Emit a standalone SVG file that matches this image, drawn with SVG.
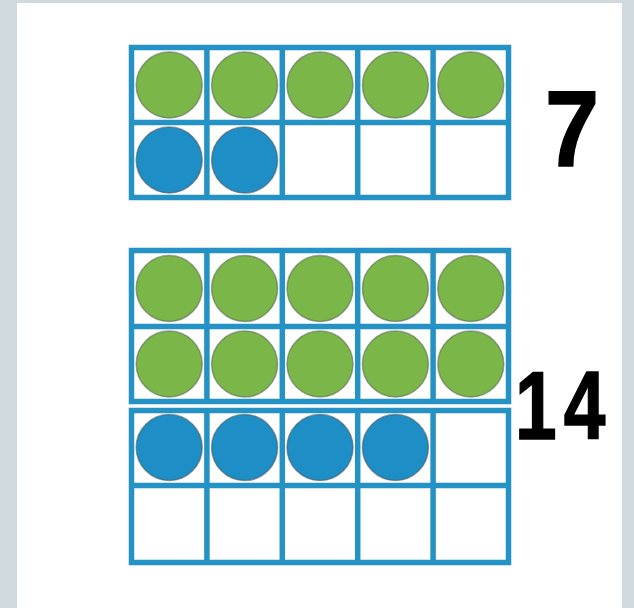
<svg xmlns="http://www.w3.org/2000/svg" width="634" height="608" viewBox="0 0 634 608">
<style>
.frame{fill:#fff;stroke:#2592c6;stroke-width:5.5}
.div{stroke:#2592c6;stroke-width:5.5}
.g{fill:#7ab648;stroke:#5e6b58;stroke-opacity:0.6;stroke-width:1.5}
.b{fill:#1e8fc6;stroke:#4a5a66;stroke-opacity:0.6;stroke-width:1.5}
.num{font-family:"Liberation Sans Narrow","Liberation Sans",sans-serif;font-weight:bold;fill:#000;stroke:#000;stroke-width:1.5}
</style>
<rect x="0" y="0" width="634" height="608" fill="#cfd9de"/>
<rect x="17" y="3" width="605" height="605" fill="#fff"/>
<g id="frame7">
<rect class="frame" x="131.5" y="47.5" width="377" height="150"/>
<path class="div" d="M206.9 47.5V197.5M282.3 47.5V197.5M357.7 47.5V197.5M433.1 47.5V197.5M131.5 122.5H508.5"/>
<circle class="g" cx="169.2" cy="85" r="33"/>
<circle class="g" cx="244.6" cy="85" r="33"/>
<circle class="g" cx="320" cy="85" r="33"/>
<circle class="g" cx="395.4" cy="85" r="33"/>
<circle class="g" cx="470.8" cy="85" r="33"/>
<circle class="b" cx="169.2" cy="160" r="33"/>
<circle class="b" cx="244.6" cy="160" r="33"/>
</g>
<g id="label7"><text class="num" transform="translate(545,166) scale(0.9,1)" x="0" y="0" font-size="108">7</text></g>
<g id="frame14a">
<rect class="frame" x="131.5" y="250.5" width="377" height="151"/>
<path class="div" d="M206.9 250.5V401.5M282.3 250.5V401.5M357.7 250.5V401.5M433.1 250.5V401.5M131.5 326.5H508.5"/>
<circle class="g" cx="169.2" cy="288.5" r="33"/>
<circle class="g" cx="244.6" cy="288.5" r="33"/>
<circle class="g" cx="320" cy="288.5" r="33"/>
<circle class="g" cx="395.4" cy="288.5" r="33"/>
<circle class="g" cx="470.8" cy="288.5" r="33"/>
<circle class="g" cx="169.2" cy="364" r="33"/>
<circle class="g" cx="244.6" cy="364" r="33"/>
<circle class="g" cx="320" cy="364" r="33"/>
<circle class="g" cx="395.4" cy="364" r="33"/>
<circle class="g" cx="470.8" cy="364" r="33"/>
</g>
<g id="frame14b">
<rect class="frame" x="131.5" y="410.5" width="377" height="152"/>
<path class="div" d="M206.9 410.5V562.5M282.3 410.5V562.5M357.7 410.5V562.5M433.1 410.5V562.5M131.5 485.5H508.5"/>
<circle class="b" cx="169.2" cy="447.5" r="33"/>
<circle class="b" cx="244.6" cy="447.5" r="33"/>
<circle class="b" cx="320" cy="447.5" r="33"/>
<circle class="b" cx="395.4" cy="447.5" r="33"/>
</g>
<g id="label14"><text class="num" transform="translate(515,439) scale(0.78,1)" x="0" y="0" font-size="96" letter-spacing="9">14</text></g>
</svg>
